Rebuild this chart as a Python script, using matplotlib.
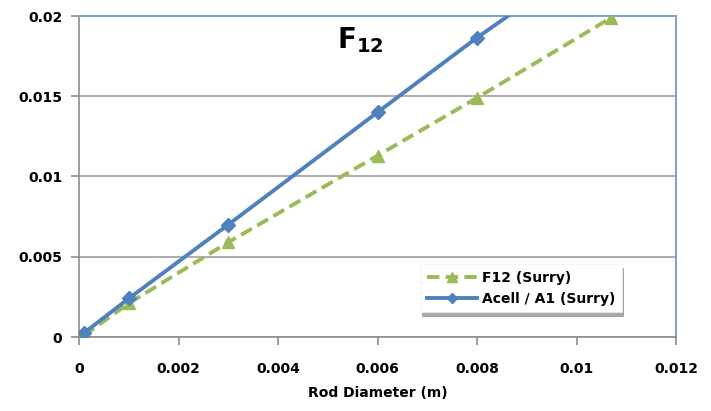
import matplotlib.pyplot as plt
from matplotlib.ticker import FixedLocator, FuncFormatter

plt.rcParams["font.family"] = ["DejaVu Sans"]

# data
f12_x = [0.0001, 0.001, 0.003, 0.006, 0.008, 0.0107]
f12_y = [0.0001, 0.0021, 0.0059, 0.0113, 0.0149, 0.0199]
acell_x = [0.0001, 0.001, 0.003, 0.006, 0.008, 0.0107]
acell_y = [0.00025, 0.0024, 0.0070, 0.0140, 0.01865, 0.0245]
x_ticks = [0, 0.002, 0.004, 0.006, 0.008, 0.01, 0.012]
y_ticks = [0, 0.005, 0.01, 0.015, 0.02]

blue = "#4F81BD"
green = "#9BBB59"

fig = plt.figure(figsize=(7.11, 4.11), dpi=100)
ax = fig.add_axes([79 / 711, 1 - 337 / 411, (676 - 79) / 711, (337 - 16) / 411])

ax.plot(f12_x, f12_y, color=green, ls=(0, (3.2, 1.6)), lw=2.8, marker="^",
        ms=9, label="F12 (Surry)", zorder=3)
ax.plot(acell_x, acell_y, color=blue, lw=2.8, marker="D", ms=7,
        label="Acell / A1 (Surry)", zorder=4)

ax.set_xlim(0, 0.012)
ax.set_ylim(0, 0.02)
ax.xaxis.set_major_locator(FixedLocator(x_ticks))
ax.yaxis.set_major_locator(FixedLocator(y_ticks))
fmt = FuncFormatter(lambda v, p: ("%g" % v))
ax.xaxis.set_major_formatter(fmt)
ax.yaxis.set_major_formatter(fmt)

ax.grid(axis="y", color="#A0A0A0", lw=1.2)
ax.set_axisbelow(True)
for s in ["left", "bottom"]:
    ax.spines[s].set_color("#8C8C8C")
    ax.spines[s].set_linewidth(1.2)
for s in ["top", "right"]:
    ax.spines[s].set_color("#7FA3D0")
    ax.spines[s].set_linewidth(1.5)

ax.tick_params(axis="both", direction="out", length=6, color="#8C8C8C",
               width=1.2, labelsize=10)
ax.tick_params(axis="x", pad=12)
ax.tick_params(axis="y", pad=6)
for lab in ax.get_xticklabels() + ax.get_yticklabels():
    lab.set_fontweight("bold")

ax.set_xlabel("Rod Diameter (m)", fontsize=10, fontweight="bold", labelpad=7)

ax.text(0.4715, 0.925, r"F$_{\mathbf{12}}$", transform=ax.transAxes,
        fontsize=20, fontweight="bold", ha="center", va="center")

leg = ax.legend(loc="lower left", bbox_to_anchor=(0.56, 0.055),
                prop={"size": 10, "weight": "bold"},
                frameon=True, fancybox=False, framealpha=1,
                shadow={"ox": 1, "oy": -2.5, "color": "#404040", "alpha": 0.45},
                handlelength=3.6, markerscale=0.75,
                borderpad=0.45, labelspacing=0.55, handletextpad=0.4)
leg.get_frame().set_edgecolor("#F0F0F0")
leg.get_frame().set_linewidth(0.5)

fig.savefig("out.png", dpi=100)
